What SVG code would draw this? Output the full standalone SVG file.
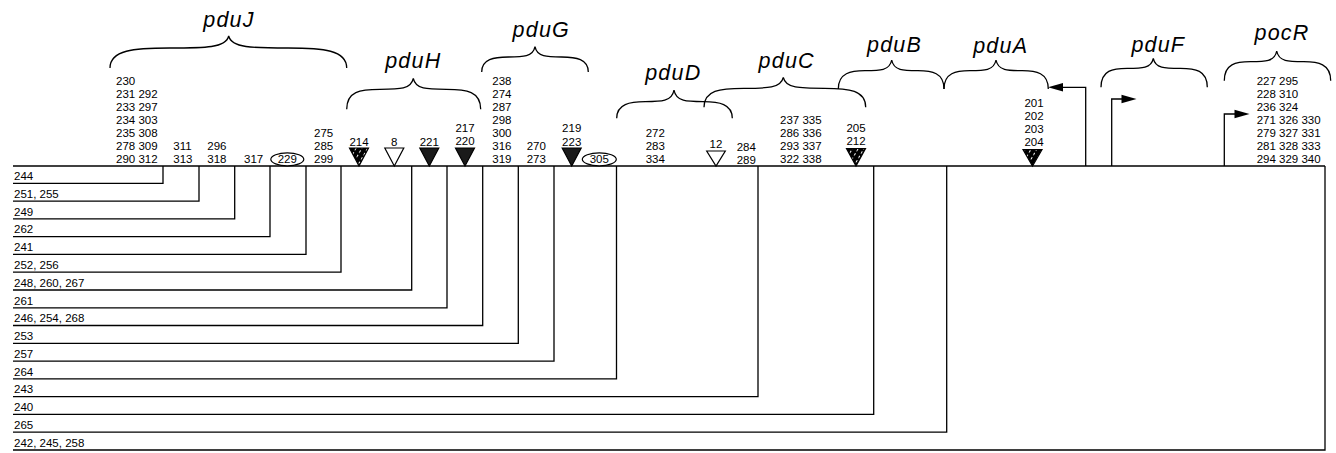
<svg xmlns="http://www.w3.org/2000/svg" width="1336" height="453" viewBox="0 0 1336 453">
<style>
.ln{fill:none;stroke:#000;stroke-width:1.3}
.br{fill:none;stroke:#000;stroke-width:1.3}
.n{font-family:"Liberation Sans",Arial,sans-serif;font-size:11.5px;fill:#000}
.m{text-anchor:middle}
.g{font-family:"Liberation Sans",Arial,sans-serif;font-size:21.5px;font-style:italic;fill:#000;text-anchor:middle;letter-spacing:1.2px}
.tri{stroke:#000;stroke-width:1.2}
.open{fill:#fff}
.dark{fill:#1a1a1a}
.hat{fill:url(#hatch)}
.ov{fill:#fff;stroke:#000;stroke-width:1.2}
.ah{fill:#000}
</style>
<defs>
<pattern id="hatch" patternUnits="userSpaceOnUse" width="5" height="5" patternTransform="rotate(30)">
<rect width="5" height="5" fill="#000"/>
<line x1="2.5" y1="0" x2="2.5" y2="5" stroke="#fff" stroke-width="1" stroke-dasharray="2.5 2.5"/>
</pattern>
</defs>
<rect width="1336" height="453" fill="#fff"/>

<g id="connectors">
<line class="ln" x1="13" y1="166" x2="1325" y2="166"/>
<polyline class="ln" points="13,183.3 163,183.3 163,166"/>
<polyline class="ln" points="13,201.1 199,201.1 199,166"/>
<polyline class="ln" points="13,218.9 234.7,218.9 234.7,166"/>
<polyline class="ln" points="13,236.6 270,236.6 270,166"/>
<polyline class="ln" points="13,254.4 306,254.4 306,166"/>
<polyline class="ln" points="13,272.2 341,272.2 341,166"/>
<polyline class="ln" points="13,290 411.7,290 411.7,166"/>
<polyline class="ln" points="13,307.8 447,307.8 447,166"/>
<polyline class="ln" points="13,325.5 482.7,325.5 482.7,166"/>
<polyline class="ln" points="13,343.3 518.3,343.3 518.3,166"/>
<polyline class="ln" points="13,361.1 554,361.1 554,166"/>
<polyline class="ln" points="13,378.9 616.5,378.9 616.5,166"/>
<polyline class="ln" points="13,396.7 758,396.7 758,166"/>
<polyline class="ln" points="13,414.4 873.7,414.4 873.7,166"/>
<polyline class="ln" points="13,432.2 946.7,432.2 946.7,166"/>
<polyline class="ln" points="13,450 1325,450 1325,166"/>
</g>

<g id="row-labels">
<text class="n" x="14" y="180">244</text>
<text class="n" x="14" y="197.8">251, 255</text>
<text class="n" x="14" y="215.6">249</text>
<text class="n" x="14" y="233.3">262</text>
<text class="n" x="14" y="251.1">241</text>
<text class="n" x="14" y="268.9">252, 256</text>
<text class="n" x="14" y="286.7">248, 260, 267</text>
<text class="n" x="14" y="304.5">261</text>
<text class="n" x="14" y="322.2">246, 254, 268</text>
<text class="n" x="14" y="340">253</text>
<text class="n" x="14" y="357.8">257</text>
<text class="n" x="14" y="375.6">264</text>
<text class="n" x="14" y="393.4">243</text>
<text class="n" x="14" y="411.1">240</text>
<text class="n" x="14" y="428.9">265</text>
<text class="n" x="14" y="446.7">242, 245, 258</text>
</g>

<g id="pduJ">
<path class="br" d="M110,68 C110,50 134,48 169.4,48 C205,48 226,48 228.7,36 C231.4,48 252.4,48 288,48 C323,48 346.7,50 346.7,68"/>
<text class="g" x="229" y="27">pduJ</text>
<text class="n" x="116" y="84.5">230</text>
<text class="n" x="116" y="97.5">231 292</text>
<text class="n" x="116" y="110.5">233 297</text>
<text class="n" x="116" y="123.5">234 303</text>
<text class="n" x="116" y="136.5">235 308</text>
<text class="n" x="116" y="149.5">278 309</text>
<text class="n" x="116" y="162.5">290 312</text>
<text class="n" x="173.3" y="149.5">311</text>
<text class="n" x="173.3" y="162.5">313</text>
<text class="n" x="207.3" y="149.5">296</text>
<text class="n" x="207.3" y="162.5">318</text>
<text class="n" x="244" y="162.5">317</text>
<ellipse class="ov" cx="287.3" cy="159.3" rx="16.5" ry="6.5"/>
<text class="n m" x="287.3" y="163.3">229</text>
<text class="n" x="314" y="136.5">275</text>
<text class="n" x="314" y="149.5">285</text>
<text class="n" x="314" y="162.5">299</text>
</g>

<g id="pduH">
<path class="br" d="M346.7,109.3 C346.7,91.3 360,89.3 380,89.3 C400,89.3 411,89.3 413.3,78.3 C415.6,89.3 426.6,89.3 446.6,89.3 C466.6,89.3 480.7,91.3 480.7,109.3"/>
<text class="g" x="413.3" y="67.5">pduH</text>
<text class="n m" x="359" y="146">214</text>
<path class="tri hat" d="M349.5,148 L368.5,148 L359,166 Z"/>
<text class="n m" x="394.3" y="146">8</text>
<path class="tri open" d="M384.8,148 L403.8,148 L394.3,166 Z"/>
<text class="n m" x="429.3" y="146">221</text>
<path class="tri dark" d="M419.8,148 L438.8,148 L429.3,166 Z"/>
<text class="n m" x="465" y="132">217</text>
<text class="n m" x="465" y="145">220</text>
<path class="tri dark" d="M455.5,148 L474.5,148 L465,166 Z"/>
</g>

<g id="pduG">
<path class="br" d="M481.7,72 C481.7,59 494,57 508.3,57 C523,57 533,57 535,46.7 C537,57 547,57 561.7,57 C576,57 588.3,59 588.3,72"/>
<text class="g" x="541.3" y="37">pduG</text>
<text class="n" x="492.3" y="84.5">238</text>
<text class="n" x="492.3" y="97.5">274</text>
<text class="n" x="492.3" y="110.5">287</text>
<text class="n" x="492.3" y="123.5">298</text>
<text class="n" x="492.3" y="136.5">300</text>
<text class="n" x="492.3" y="149.5">316</text>
<text class="n" x="492.3" y="162.5">319</text>
<text class="n" x="526.7" y="149.5">270</text>
<text class="n" x="526.7" y="162.5">273</text>
<text class="n m" x="571.7" y="132">219</text>
<text class="n m" x="571.7" y="145.5">223</text>
<path class="tri dark" d="M562.2,148 L581.2,148 L571.7,166 Z"/>
<ellipse class="ov" cx="599.3" cy="159.3" rx="17" ry="6.5"/>
<text class="n m" x="599.3" y="163.3">305</text>
</g>

<g id="pduD">
<path class="br" d="M616.7,118.3 C616.7,104 630,101.7 645.3,101.7 C661,101.7 672,101.7 674,90 C676,101.7 687,101.7 703.2,101.7 C719,101.7 732.3,104 732.3,118.3"/>
<text class="g" x="673.3" y="80">pduD</text>
<text class="n" x="645.7" y="137">272</text>
<text class="n" x="645.7" y="150">283</text>
<text class="n" x="645.7" y="163">334</text>
<text class="n m" x="716" y="148">12</text>
<path class="tri open" d="M706.7,151 L725.3,151 L716,166 Z"/>
<text class="n" x="736.7" y="150.5">284</text>
<text class="n" x="736.7" y="163.5">289</text>
</g>

<g id="pduC">
<path class="br" d="M704,107.3 C704,90.3 720,88.3 743.7,88.3 C767,88.3 781,88.3 783.3,77.3 C785.6,88.3 799.6,88.3 824.5,88.3 C849,88.3 865.7,90.3 865.7,107.3"/>
<text class="g" x="786.7" y="67.5">pduC</text>
<text class="n" x="780" y="124">237 335</text>
<text class="n" x="780" y="137">286 336</text>
<text class="n" x="780" y="150">293 337</text>
<text class="n" x="780" y="163">322 338</text>
<text class="n m" x="856" y="131.5">205</text>
<text class="n m" x="856" y="144.5">212</text>
<path class="tri hat" d="M846.5,148.5 L865.5,148.5 L856,166 Z"/>
</g>

<g id="pduB">
<path class="br" d="M838.3,89 C838.3,72.7 851,70.7 865,70.7 C880,70.7 889.7,70.7 891.7,60 C893.7,70.7 903.4,70.7 917.8,70.7 C932,70.7 944,72.7 944,89"/>
<text class="g" x="894.5" y="52">pduB</text>
</g>

<g id="pduA">
<path class="br" d="M944,89 C944,72.7 956,70.7 970,70.7 C984,70.7 994,70.7 996,60 C998,70.7 1008,70.7 1022.2,70.7 C1036,70.7 1048.3,72.7 1048.3,89"/>
<text class="g" x="1000.7" y="53">pduA</text>
<text class="n m" x="1034" y="107">201</text>
<text class="n m" x="1034" y="120">202</text>
<text class="n m" x="1034" y="133">203</text>
<text class="n m" x="1034" y="146">204</text>
<path class="tri hat" d="M1023,149.5 L1042,149.5 L1032.5,166 Z"/>
<polyline class="ln" points="1085.7,166 1085.7,87.3 1062,87.3"/>
<path class="ah" d="M1048,87.3 L1063,83 L1063,91.6 Z"/>
</g>

<g id="pduF">
<path class="br" d="M1101,87.3 C1101,70.3 1113,68.3 1127.2,68.3 C1142,68.3 1151.3,68.3 1153.3,58.3 C1155.3,68.3 1164.6,68.3 1180.3,68.3 C1195,68.3 1207.3,70.3 1207.3,87.3"/>
<text class="g" x="1158.3" y="52">pduF</text>
<polyline class="ln" points="1111.7,166 1111.7,99 1123,99"/>
<path class="ah" d="M1136.5,99 L1121.5,94.7 L1121.5,103.3 Z"/>
</g>

<g id="pocR">
<path class="br" d="M1224.3,80.7 C1224.3,63.7 1236,61.7 1250.5,61.7 C1265,61.7 1274.7,61.7 1276.7,51 C1278.7,61.7 1288.4,61.7 1303.7,61.7 C1318,61.7 1330.7,63.7 1330.7,80.7"/>
<text class="g" x="1282" y="40">pocR</text>
<text class="n" x="1256.7" y="84.5">227 295</text>
<text class="n" x="1256.7" y="98">228 310</text>
<text class="n" x="1256.7" y="111">236 324</text>
<text class="n" x="1256.7" y="124">271 326 330</text>
<text class="n" x="1256.7" y="137">279 327 331</text>
<text class="n" x="1256.7" y="150">281 328 333</text>
<text class="n" x="1256.7" y="163">294 329 340</text>
<polyline class="ln" points="1224.3,166 1224.3,114 1236,114"/>
<path class="ah" d="M1249.5,114 L1234.5,109.7 L1234.5,118.3 Z"/>
</g>
</svg>
